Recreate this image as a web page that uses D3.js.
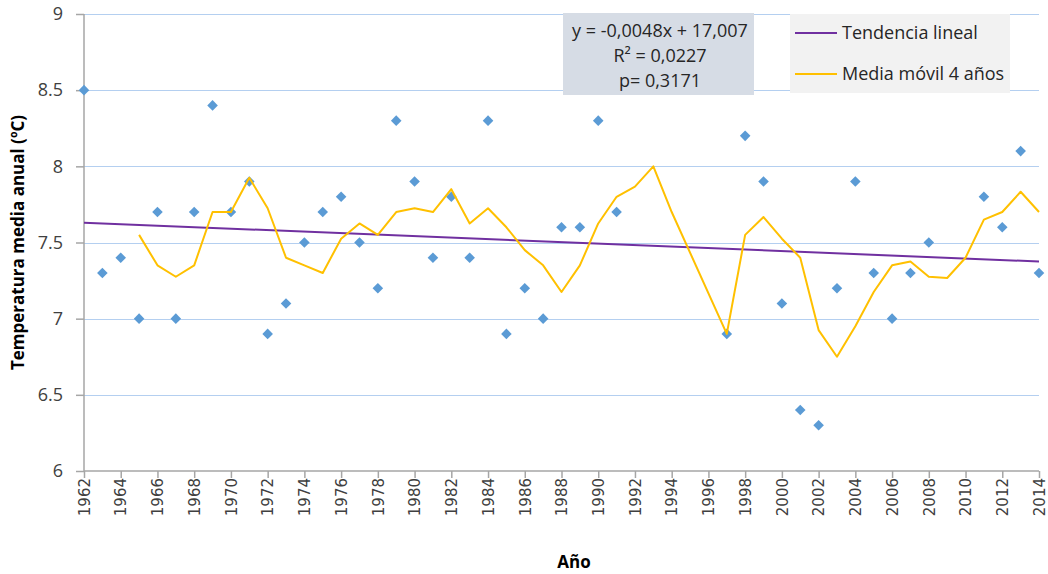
<!DOCTYPE html>
<html>
<head>
<meta charset="utf-8">
<script src="https://cdn.jsdelivr.net/npm/d3@7"></script>
<style>
    body { margin: 0; background: #fff; }
    .axis path, .axis line { fill: none; stroke: #a6a6a6; stroke-width: 1.5px; }
    .ytick text { font-family: "Open Sans", sans-serif; font-size: 18px; fill: #404040; }
    .xtick text { font-family: "DejaVu Sans", sans-serif; font-size: 15px; fill: #404040; }
    .title { font-family: "Open Sans", sans-serif; font-weight: bold; font-size: 17px; fill: #000; }
    .box text { font-family: "Open Sans", sans-serif; font-size: 18px; fill: #262626; }
</style>
</head>
<body>
<div id="chart"></div>
<script>
    var years = d3.range(1962, 2015);

    // temperatura media anual, null = sin dato
    var temps = [8.5, 7.3, 7.4, 7.0, 7.7, 7.0, 7.7, 8.4, 7.7, 7.9,
                 6.9, 7.1, 7.5, 7.7, 7.8, 7.5, 7.2, 8.3, 7.9, 7.4,
                 7.8, 7.4, 8.3, 6.9, 7.2, 7.0, 7.6, 7.6, 8.3, 7.7,
                 null, null, null, null, null,
                 6.9, 8.2, 7.9, 7.1, 6.4, 6.3, 7.2, 7.9, 7.3, 7.0, 7.3, 7.5,
                 null, null,
                 7.8, 7.6, 8.1, 7.3];

    // media movil 4 años
    var movAvg = [null, null, null, 7.55, 7.35, 7.275, 7.35, 7.7, 7.7, 7.925,
                  7.725, 7.4, 7.35, 7.3, 7.525, 7.625, 7.55, 7.7, 7.725, 7.7,
                  7.85, 7.625, 7.725, 7.6, 7.45, 7.35, 7.175, 7.35, 7.625, 7.8,
                  7.867, 8.0, 7.7, null, null,
                  6.9, 7.55, 7.667, 7.525, 7.4, 6.925, 6.75, 6.95, 7.175, 7.35, 7.375, 7.275,
                  7.267, 7.4,
                  7.65, 7.7, 7.833, 7.7];

    // tendencia lineal: extremos
    var trendYears = [1962, 2014];
    var trendVals = [7.63, 7.375];

    var yTicks = [6, 6.5, 7, 7.5, 8, 8.5, 9];
    var xTicks = d3.range(1962, 2015, 2);

    var eqLines = ["y = -0,0048x + 17,007", "R² = 0,0227", "p= 0,3171"];
    var legendItems = [
        { name: "Tendencia lineal", color: "#7030a0" },
        { name: "Media móvil 4 años", color: "#ffc000" }
    ];

    var W = 1048, H = 574;
    var margin = { top: 14, left: 84, bottom: 103, right: 9 };
    var width = W - margin.left - margin.right;
    var height = H - margin.top - margin.bottom;

    var svg = d3.select("#chart").append("svg")
        .attr("width", W)
        .attr("height", H);

    var g = svg.append("g")
        .attr("transform", "translate(" + margin.left + "," + margin.top + ")");

    var x = d3.scaleLinear().domain([1962, 2014]).range([0, width]);
    var y = d3.scaleLinear().domain([6, 9]).range([height, 0]);

    // gridlines
    g.selectAll(".grid")
        .data(yTicks.filter(function (d) { return d > 6; }))
        .enter().append("line")
        .attr("x1", 0)
        .attr("x2", width)
        .attr("y1", function (d) { return Math.round(y(d)) + 0.5; })
        .attr("y2", function (d) { return Math.round(y(d)) + 0.5; })
        .attr("stroke", "#b4cff0")
        .attr("stroke-width", 1);

    // y axis
    var yAxis = d3.axisLeft(y)
        .tickValues(yTicks)
        .tickSize(8)
        .tickPadding(13)
        .tickFormat(function (d) { return d; });

    g.append("g")
        .attr("class", "axis ytick")
        .call(yAxis)
        .call(function (s) { s.select(".domain").attr("d", "M0," + height + "V0"); });

    // x axis
    var xAxis = d3.axisBottom(x)
        .tickValues(xTicks)
        .tickSize(7)
        .tickFormat(d3.format("d"));

    var xg = g.append("g")
        .attr("class", "axis xtick")
        .attr("transform", "translate(0," + height + ")")
        .call(xAxis);
    xg.select(".domain").attr("d", "M0,0H" + width);
    xg.selectAll("text")
        .attr("transform", "rotate(-90)")
        .attr("text-anchor", "end")
        .attr("x", -7)
        .attr("y", 0)
        .attr("dy", "0.35em");

    // trend line
    g.append("line")
        .attr("x1", x(trendYears[0]))
        .attr("y1", y(trendVals[0]))
        .attr("x2", x(trendYears[1]))
        .attr("y2", y(trendVals[1]))
        .attr("stroke", "#7030a0")
        .attr("stroke-width", 2);

    // points
    var pts = years.map(function (yr, i) { return { year: yr, t: temps[i] }; })
        .filter(function (d) { return d.t != null; });

    g.selectAll(".pt")
        .data(pts)
        .enter().append("path")
        .attr("class", "pt")
        .attr("d", d3.symbol().type(d3.symbolSquare).size(56))
        .attr("transform", function (d) {
            return "translate(" + x(d.year) + "," + y(d.t) + ") rotate(45)";
        })
        .attr("fill", "#5b9bd5");

    // moving average
    var ma = years.map(function (yr, i) { return { year: yr, v: movAvg[i] }; })
        .filter(function (d) { return d.v != null; });

    var line = d3.line()
        .x(function (d) { return x(d.year); })
        .y(function (d) { return y(d.v); });

    g.append("path")
        .datum(ma)
        .attr("d", line)
        .attr("fill", "none")
        .attr("stroke", "#ffc000")
        .attr("stroke-width", 2)
        .attr("stroke-linejoin", "round");

    // equation box
    var box = svg.append("g").attr("class", "box");
    box.append("rect")
        .attr("x", 563).attr("y", 13)
        .attr("width", 191).attr("height", 82)
        .attr("fill", "#d6dce5");
    box.selectAll("text.eq")
        .data(eqLines)
        .enter().append("text")
        .attr("class", "eq")
        .attr("x", 660)
        .attr("y", function (d, i) { return 37 + i * 25; })
        .attr("text-anchor", "middle")
        .text(function (d) { return d; });

    // legend
    var leg = svg.append("g").attr("class", "box");
    leg.append("rect")
        .attr("x", 790).attr("y", 14)
        .attr("width", 220).attr("height", 79)
        .attr("fill", "#f2f2f2");
    var li = leg.selectAll(".li")
        .data(legendItems)
        .enter().append("g")
        .attr("transform", function (d, i) { return "translate(795," + (33 + i * 41) + ")"; });
    li.append("line")
        .attr("x1", 0).attr("x2", 42)
        .attr("stroke", function (d) { return d.color; })
        .attr("stroke-width", 2);
    li.append("text")
        .attr("x", 47)
        .attr("dy", "0.35em")
        .text(function (d) { return d.name; });

    // axis titles
    svg.append("text")
        .attr("class", "title")
        .attr("transform", "translate(24," + (margin.top + height / 2) + ") rotate(-90)")
        .attr("text-anchor", "middle")
        .text("Temperatura media anual (ºC)");

    svg.append("text")
        .attr("class", "title")
        .attr("x", 574)
        .attr("y", 568)
        .attr("text-anchor", "middle")
        .text("Año");
</script>
</body>
</html>
